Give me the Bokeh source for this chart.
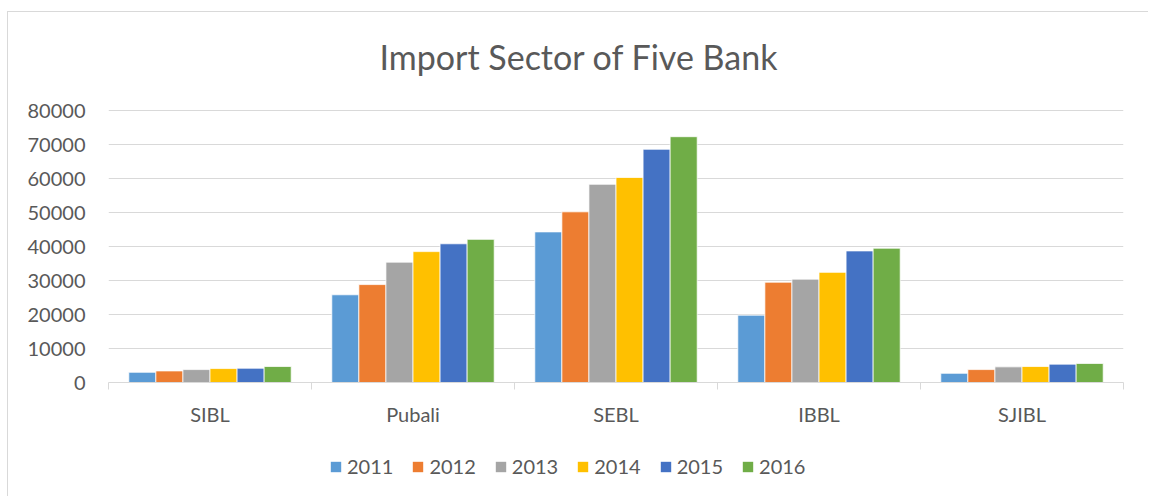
from bokeh.plotting import figure
from bokeh.layouts import column
from bokeh.models import (Range1d, FixedTicker, Legend, LegendItem, Title, ColumnDataSource)
from bokeh.embed import file_html
from bokeh.resources import INLINE

# ---------------- data ----------------
banks = ["SIBL", "Pubali", "SEBL", "IBBL", "SJIBL"]
years = ["2011", "2012", "2013", "2014", "2015", "2016"]
v2011 = [3000, 25800, 44300, 19800, 2700]
v2012 = [3400, 28800, 50200, 29500, 3800]
v2013 = [3800, 35400, 58300, 30400, 4600]
v2014 = [4100, 38500, 60300, 32400, 4700]
v2015 = [4200, 40800, 68600, 38700, 5400]
v2016 = [4700, 42100, 72300, 39500, 5600]
y_ticks = [0, 10000, 20000, 30000, 40000, 50000, 60000, 70000, 80000]
title_text = "Import Sector of Five Bank"

colors = ["#5B9BD5", "#ED7D31", "#A5A5A5", "#FFC000", "#4472C4", "#70AD47"]
FONT = "Lato"
TXT = "#595959"
GRID = "#D9D9D9"

series = [v2011, v2012, v2013, v2014, v2015, v2016]
n = len(banks)
centers = [i + 0.5 for i in range(n)]
edges = [float(i) for i in range(n + 1)]

W = 1148
p = figure(width=W, height=445, x_range=Range1d(0, n), y_range=Range1d(0, 80300),
           output_backend="svg", toolbar_location=None,
           min_border_left=108, min_border_right=W - 1123, min_border_top=109,
           min_border_bottom=63)
p.outline_line_color = None
p.background_fill_color = "white"
p.border_fill_color = None

# title
p.title = Title(text=title_text, align="left", offset=271, standoff=65,
                text_font=FONT, text_font_size="34px", text_font_style="normal",
                text_color=TXT)

# y axis
p.yaxis.ticker = FixedTicker(ticks=y_ticks)
p.yaxis.axis_line_color = None
p.yaxis.major_tick_line_color = None
p.yaxis.minor_tick_line_color = None
p.yaxis.major_tick_out = 0
p.yaxis.major_tick_in = 0
p.yaxis.minor_tick_out = 0
p.yaxis.major_label_text_font = FONT
p.yaxis.major_label_text_font_size = "20px"
p.yaxis.major_label_text_color = TXT
p.yaxis.major_label_standoff = 23
p.ygrid.ticker = FixedTicker(ticks=y_ticks)
p.ygrid.grid_line_color = GRID
p.ygrid.grid_line_width = 1
p.xgrid.visible = False

# x axis: labels at category centres, tick marks at category boundaries
p.xaxis.ticker = FixedTicker(ticks=centers, minor_ticks=edges)
p.xaxis.major_label_overrides = {c: b for c, b in zip(centers, banks)}
p.xaxis.axis_line_color = GRID
p.xaxis.major_tick_line_color = None
p.xaxis.minor_tick_line_color = GRID
p.xaxis.minor_tick_in = 0
p.xaxis.minor_tick_out = 7
p.xaxis.major_tick_in = 0
p.xaxis.major_tick_out = 7
p.xaxis.major_label_text_font = FONT
p.xaxis.major_label_text_font_size = "20px"
p.xaxis.major_label_text_color = TXT
p.xaxis.major_label_standoff = 12

# bars
bw = 1.0 / (len(years) + 1.5)
for i, (yr, vals, c) in enumerate(zip(years, series, colors)):
    off = (i - (len(years) - 1) / 2) * bw
    src = ColumnDataSource(dict(x=[ctr + off for ctr in centers], top=vals))
    p.vbar(x="x", top="top", width=bw, source=src,
           fill_color=c, line_color="white", line_width=0.75)

# legend strip below the chart (zero-height proxy bars carry the legend swatches)
lf = figure(width=W, height=51, x_range=Range1d(0, 1), y_range=Range1d(0, 1),
            x_axis_location=None, y_axis_location=None, output_backend="svg",
            toolbar_location=None, min_border=0)
lf.outline_line_color = None
lf.background_fill_color = None
lf.border_fill_color = None
lf.xgrid.visible = False
lf.ygrid.visible = False
items = []
for yr, c in zip(years, colors):
    r = lf.vbar(x=[0.5], top=[0], bottom=[0], width=0.01, fill_color=c, line_color=None)
    items.append(LegendItem(label=yr, renderers=[r]))
legend = Legend(items=items, orientation="horizontal", location=(221, 18),
                glyph_width=13, glyph_height=13, label_text_font=FONT,
                label_text_font_size="20px", label_text_color=TXT, label_standoff=5,
                spacing=18, padding=0, margin=0, border_line_color=None,
                background_fill_alpha=0)
lf.add_layout(legend, "center")

layout = column(p, lf, spacing=0)
layout.styles = {
    "background-image": "linear-gradient(#D9D9D9,#D9D9D9), linear-gradient(#D9D9D9,#D9D9D9)",
    "background-size": "100% 1px, 1px 100%",
    "background-position": "7px 11px, 7px 11px",
    "background-repeat": "no-repeat",
}

open("out.html", "w").write(file_html(layout, INLINE))
